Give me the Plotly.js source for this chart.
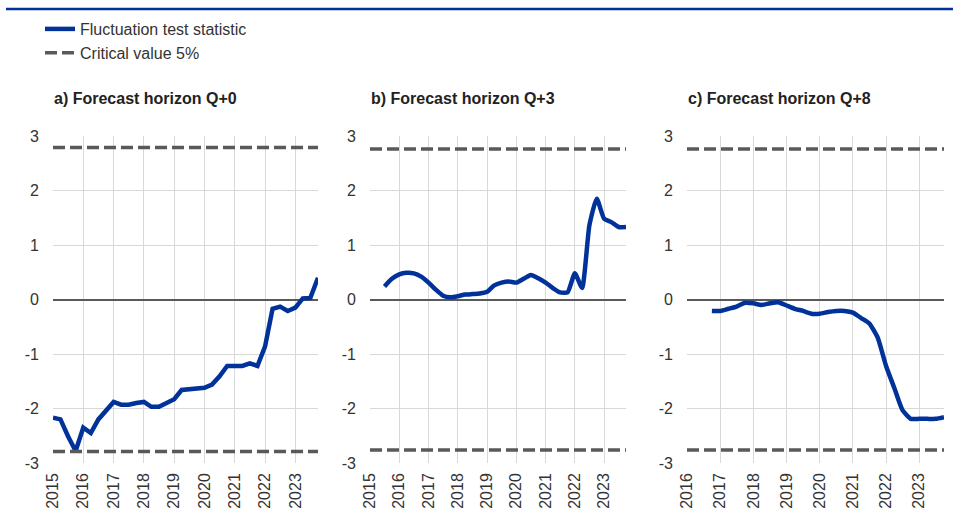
<!DOCTYPE html>
<html>
<head>
<meta charset="utf-8">
<script src="https://cdn.plot.ly/plotly-3.0.1.min.js"></script>
<style>html,body{margin:0;padding:0;background:#fff}#chart{width:953px;height:523px}</style>
</head>
<body>
<div id="chart"></div>
<script>
// Quarter labels (start of quarter)
const quartersA = ["2015-01-01","2015-04-01","2015-07-01","2015-10-01","2016-01-01","2016-04-01","2016-07-01","2016-10-01",
  "2017-01-01","2017-04-01","2017-07-01","2017-10-01","2018-01-01","2018-04-01","2018-07-01","2018-10-01",
  "2019-01-01","2019-04-01","2019-07-01","2019-10-01","2020-01-01","2020-04-01","2020-07-01","2020-10-01",
  "2021-01-01","2021-04-01","2021-07-01","2021-10-01","2022-01-01","2022-04-01","2022-07-01","2022-10-01",
  "2023-01-01","2023-04-01","2023-07-01","2023-10-01"];
const quartersB = ["2015-07-01","2015-10-01","2016-01-01","2016-04-01","2016-07-01","2016-10-01",
  "2017-01-01","2017-04-01","2017-07-01","2017-10-01","2018-01-01","2018-04-01","2018-07-01","2018-10-01",
  "2019-01-01","2019-04-01","2019-07-01","2019-10-01","2020-01-01","2020-04-01","2020-07-01","2020-10-01",
  "2021-01-01","2021-04-01","2021-07-01","2021-10-01","2022-01-01","2022-04-01","2022-07-01","2022-10-01",
  "2023-01-01","2023-04-01","2023-07-01","2023-10-01"];
const quartersC = ["2016-10-01",
  "2017-01-01","2017-04-01","2017-07-01","2017-10-01","2018-01-01","2018-04-01","2018-07-01","2018-10-01",
  "2019-01-01","2019-04-01","2019-07-01","2019-10-01","2020-01-01","2020-04-01","2020-07-01","2020-10-01",
  "2021-01-01","2021-04-01","2021-07-01","2021-10-01","2022-01-01","2022-04-01","2022-07-01","2022-10-01",
  "2023-01-01","2023-04-01","2023-07-01","2023-10-01"];

// Fluctuation test statistic
const statA = [-2.17,-2.20,-2.51,-2.78,-2.35,-2.45,-2.20,-2.05,-1.88,-1.93,-1.93,-1.90,-1.88,-1.97,-1.97,-1.90,
  -1.83,-1.66,-1.64,-1.64,-1.62,-1.56,-1.41,-1.22,-1.22,-1.22,-1.17,-1.22,-0.86,-0.17,-0.13,-0.21,-0.15,0.02,0.03,0.40];
const statB = [0.24,0.38,0.46,0.49,0.48,0.42,0.31,0.18,0.07,0.04,0.06,0.09,0.10,0.11,0.14,0.26,0.31,0.33,0.31,0.38,
  0.45,0.39,0.31,0.21,0.13,0.13,0.48,0.21,1.36,1.85,1.48,1.42,1.33,1.33];
const statC = [-0.21,-0.21,-0.17,-0.13,-0.06,-0.07,-0.10,-0.07,-0.05,-0.11,-0.17,-0.21,-0.26,-0.26,-0.23,-0.21,-0.21,
  -0.24,-0.34,-0.44,-0.70,-1.22,-1.62,-2.03,-2.19,-2.19,-2.19,-2.19,-2.16];

// Critical values (5%)
const critA = 2.79, critB = 2.76, critC = 2.76;
// Axis spans
const spanA = ["2015-01-01","2023-10-01"];
const spanB = ["2015-01-01","2023-10-01"];
const spanC = ["2016-01-01","2023-10-01"];

const titles = ["a) Forecast horizon Q+0","b) Forecast horizon Q+3","c) Forecast horizon Q+8"];
const yTicks = [-3,-2,-1,0,1,2,3];
const yTickText = ["-3","-2","-1","0","1","2","3"];

const BLUE = "#003299", GREY = "#595959";
const panels = [
  {q: quartersA, s: statA, c: critA, span: spanA, xa: "x", ya: "y", shape: "linear"},
  {q: quartersB, s: statB, c: critB, span: spanB, xa: "x2", ya: "y2", shape: "spline"},
  {q: quartersC, s: statC, c: critC, span: spanC, xa: "x3", ya: "y3", shape: "spline"}
];
const traces = [];
panels.forEach((p, i) => {
  traces.push({
    type: "scatter", mode: "lines", x: p.q, y: p.s, xaxis: p.xa, yaxis: p.ya,
    line: {color: BLUE, width: 4.5, shape: p.shape, smoothing: 0.5}, name: "Fluctuation test statistic",
    showlegend: i === 0, legendgroup: "stat", hoverinfo: "x+y"
  });
  traces.push({
    type: "scatter", mode: "lines",
    x: [p.span[0], p.span[1], null, p.span[0], p.span[1]],
    y: [p.c, p.c, null, -p.c, -p.c], xaxis: p.xa, yaxis: p.ya,
    line: {color: GREY, width: 3.5, dash: "12px,5px"}, name: "Critical value 5%",
    showlegend: i === 0, legendgroup: "crit", hoverinfo: "skip"
  });
});

const W = 953, H = 523;
const domX = [[53/W, 318/W],[370/W, 626/W],[687/W, 944/W]];
const domY = [1 - 463/H, 1 - 136/H];
const font = "'Liberation Sans', Arial, sans-serif";

function xax(i) {
  return {
    type: "date", domain: domX[i], range: panels[i].span, dtick: "M12", tick0: "2015-01-01",
    tickformat: "%Y", tickangle: -90, showgrid: true, gridcolor: "#d9d9d9", gridwidth: 1,
    showline: false, zeroline: false, ticks: "", ticklabelstandoff: 6,
    tickfont: {family: font, size: 16, color: "#333"}, anchor: ["y","y2","y3"][i], fixedrange: true
  };
}
function yax(i) {
  return {
    domain: domY, range: [-3, 3], tickvals: yTicks, ticktext: yTickText, showgrid: true, gridcolor: "#d9d9d9", gridwidth: 1,
    zeroline: true, zerolinecolor: GREY, zerolinewidth: 2, showline: false, ticks: "",
    ticklabelstandoff: 13, tickfont: {family: font, size: 16, color: "#333"},
    anchor: ["x","x2","x3"][i], fixedrange: true
  };
}

const layout = {
  width: W, height: H, margin: {l: 0, r: 0, t: 0, b: 0},
  paper_bgcolor: "#fff", plot_bgcolor: "#fff",
  font: {family: font, color: "#333"},
  xaxis: xax(0), xaxis2: xax(1), xaxis3: xax(2),
  yaxis: yax(0), yaxis2: yax(1), yaxis3: yax(2),
  showlegend: true,
  legend: {x: 40/W, y: 1 - 12/H, xanchor: "left", yanchor: "top", orientation: "v",
    font: {family: font, size: 16, color: "#333"}, tracegroupgap: 0, itemwidth: 30,
    bgcolor: "rgba(0,0,0,0)"},
  shapes: [{type: "line", xref: "paper", yref: "paper", x0: 6/W, x1: 1, y0: 1 - 9/H, y1: 1 - 9/H,
    line: {color: BLUE, width: 2.5}}],
  annotations: titles.map((t, i) => ({
    text: "<b>" + t + "</b>", xref: "paper", yref: "paper", x: domX[i][0] - 1/W, y: 1 - 99/H,
    xanchor: "left", yanchor: "middle", showarrow: false,
    font: {family: font, size: 16, color: "#222"}
  }))
};

Plotly.newPlot("chart", traces, layout, {displayModeBar: false, staticPlot: true});
</script>
</body>
</html>
